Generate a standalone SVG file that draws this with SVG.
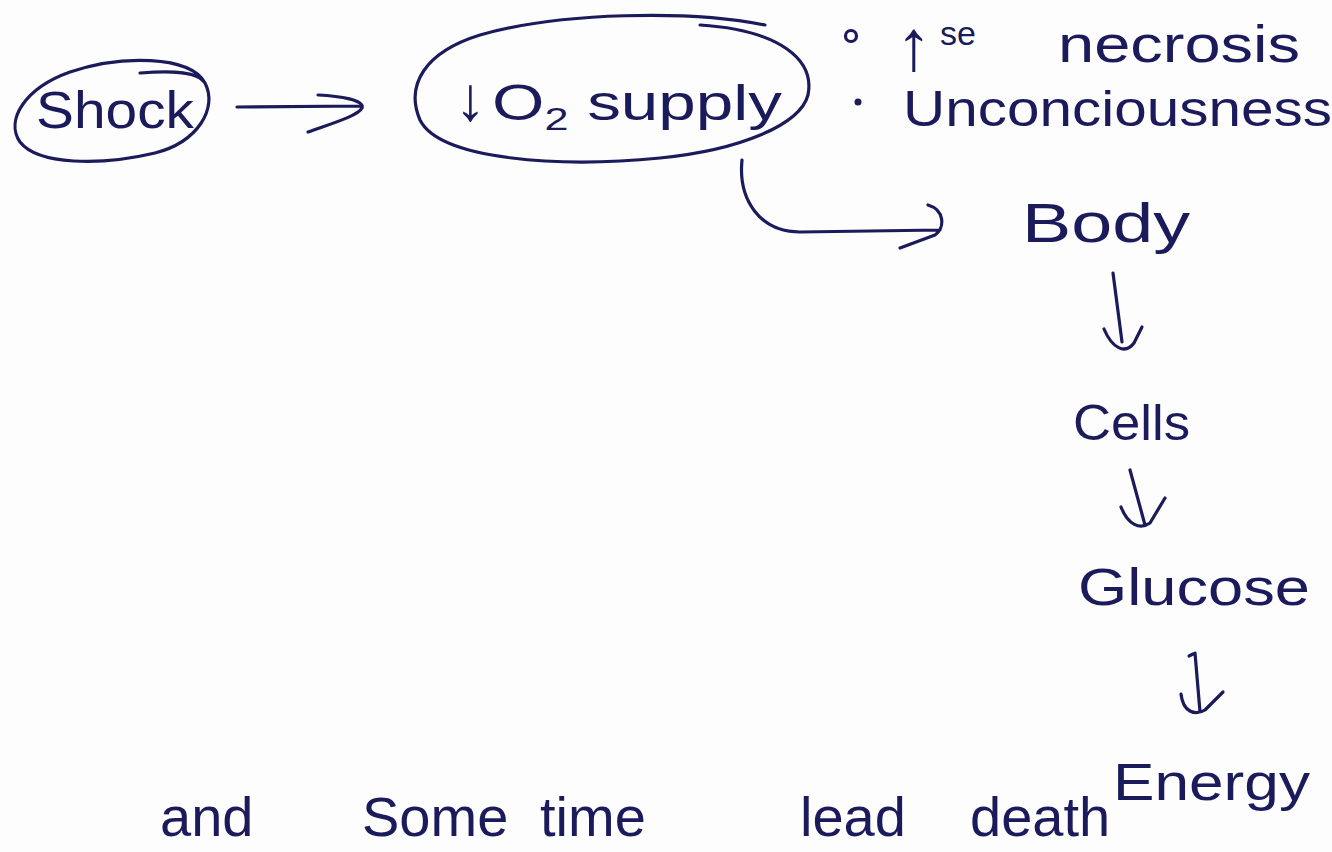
<svg xmlns="http://www.w3.org/2000/svg" width="1332" height="852" viewBox="0 0 1332 852">
<style>
.t{font-family:"Liberation Sans","DejaVu Sans",sans-serif;fill:#1b1b5c;}
.s{fill:none;stroke:#1b1b5c;stroke-width:3.2;stroke-linecap:round;stroke-linejoin:round;}
</style>
<rect width="1332" height="852" fill="#fdfdfd"/>
<g id="node-shock">
<path class="s" d="M205,83 C190,55 120,55 70,72 C25,88 5,120 20,142 C38,165 100,166 155,153 C198,142 218,108 205,83 C198,72 175,70 140,73"/>
<text class="t" x="36" y="128" font-size="52" textLength="158" lengthAdjust="spacingAndGlyphs">Shock</text>
</g>
<g id="node-o2">
<path class="s" d="M765,25 C690,10 560,12 480,35 C425,52 405,85 420,120 C440,160 560,168 660,158 C740,150 800,125 808,95 C815,60 780,30 700,25"/>
<text class="t" x="455" y="120" font-size="50"><tspan font-size="62">↓</tspan><tspan x="492" textLength="290" lengthAdjust="spacingAndGlyphs">O<tspan font-size="32" dy="10">2</tspan><tspan dy="-10"> supply</tspan></tspan></text>
</g>
<g id="node-effects">
<circle cx="851" cy="36" r="5.5" class="s" stroke-width="2.8"/>
<text class="t" x="896" y="70" font-size="72">↑</text>
<text class="t" x="940" y="45" font-size="34">se</text>
<text class="t" x="1058" y="62" font-size="52" textLength="242" lengthAdjust="spacingAndGlyphs">necrosis</text>
<circle cx="858" cy="102" r="3.5" fill="#1b1b5c"/>
<text class="t" x="903" y="126" font-size="50" textLength="429" lengthAdjust="spacingAndGlyphs">Unconciousness</text>
</g>
<g id="node-body">
<text class="t" x="1022" y="242" font-size="56" textLength="168" lengthAdjust="spacingAndGlyphs">Body</text>
</g>
<g id="node-cells">
<text class="t" x="1073" y="440" font-size="50" textLength="117" lengthAdjust="spacingAndGlyphs">Cells</text>
</g>
<g id="node-glucose">
<text class="t" x="1078" y="605" font-size="52" textLength="232" lengthAdjust="spacingAndGlyphs">Glucose</text>
</g>
<g id="node-energy">
<text class="t" x="1113" y="800" font-size="52" textLength="197" lengthAdjust="spacingAndGlyphs">Energy</text>
</g>
<g id="node-death">
<text class="t" x="160" y="836" font-size="56">and</text>
<text class="t" x="362" y="836" font-size="56">Some</text>
<text class="t" x="540" y="836" font-size="56">time</text>
<text class="t" x="800" y="836" font-size="56">lead</text>
<text class="t" x="970" y="836" font-size="56">death</text>
</g>
<g id="connectors">
<path class="s" d="M237,107 L362,106 M318,95 C340,96 365,100 362,108 C358,116 330,124 308,132"/>
<path class="s" d="M742,160 C738,200 760,232 800,232 L940,230 M928,205 C945,210 945,228 935,235 L900,248"/>
<path class="s" d="M1113,273 L1122,342 M1104,329 C1112,348 1125,355 1134,343 L1142,327"/>
<path class="s" d="M1130,470 L1145,525 M1121,507 C1128,525 1140,530 1150,523 L1165,498"/>
<path class="s" d="M1193,654 L1189,656 M1195,653 L1200,712 M1181,694 C1183,712 1195,716 1205,710 L1223,692"/>
</g>
</svg>
